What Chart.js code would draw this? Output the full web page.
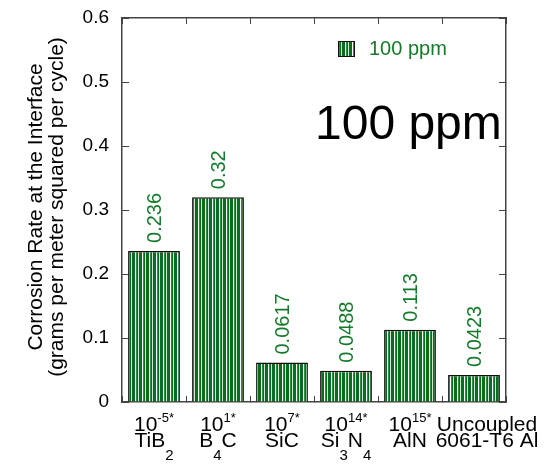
<!DOCTYPE html>
<html>
<head>
<meta charset="utf-8">
<script src="https://cdn.jsdelivr.net/npm/chart.js@4.4.0/dist/chart.umd.min.js"></script>
<style>
  html, body { margin: 0; padding: 0; background: #fff; }
  canvas { display: block; }
</style>
</head>
<body>
<canvas id="corrosion-chart" width="557" height="468"></canvas>
<script>
// values
const materials = ['TiB2', 'B4C', 'SiC', 'Si3N4', 'AlN', 'Uncoupled 6061-T6 Al'];
const corrosionRate = [0.236, 0.32, 0.0617, 0.0488, 0.113, 0.0423];
const seriesName = '100 ppm';
// first label line: [text, superscript]
const resistivityLabels = [['10', '-5*'], ['10', '1*'], ['10', '7*'], ['10', '14*'], ['10', '15*'], ['Uncoupled', '']];
// second label line: [text, isSubscript] pieces
const formulaLabels = [
  [['TiB', 0], ['2', 1]],
  [['B', 0], ['4', 1], ['C', 0]],
  [['SiC', 0]],
  [['Si', 0], ['3', 1], ['N', 0], ['4', 1]],
  [['AlN', 0]],
  [['6061-T6 Al', 0]],
];
const yMin = 0, yMax = 0.6, yStep = 0.1;
const yTitleLines = ['Corrosion Rate at the Interface', '(grams per meter squared per cycle)'];

const FONT = '"Liberation Sans", Arial, Helvetica, sans-serif';
const textGreen = '#157a2a';
const axisColor = '#444';

Chart.defaults.font.family = FONT;
Chart.defaults.color = '#000';

// vertical green / white stripes like the original hatch
function stripePattern() {
  const c = document.createElement('canvas');
  const cols = ['#0b6b20', '#0b6b20', '#ffffff', '#2f8f3f', '#0b6b20', '#cfe6cf', '#0b6b20'];
  c.width = cols.length;
  c.height = 4;
  const g = c.getContext('2d');
  cols.forEach((col, i) => { g.fillStyle = col; g.fillRect(i, 0, 1, 4); });
  return g.createPattern(c, 'repeat');
}
const barFill = stripePattern();

// rotated value above each bar
const valueLabels = {
  id: 'valueLabels',
  afterDatasetsDraw(chart) {
    const ctx = chart.ctx;
    const meta = chart.getDatasetMeta(0);
    ctx.save();
    ctx.fillStyle = textGreen;
    ctx.font = '20px ' + FONT;
    ctx.textAlign = 'left';
    ctx.textBaseline = 'middle';
    meta.data.forEach((bar, i) => {
      ctx.save();
      ctx.translate(bar.x + 1, bar.y - 8);
      ctx.rotate(-Math.PI / 2);
      ctx.fillText(String(corrosionRate[i]), 0, 0);
      ctx.restore();
    });
    ctx.restore();
  }
};

function drawPieces(ctx, pieces, cx, y) {
  // pieces: [text, font, dy]
  let total = 0;
  pieces.forEach(p => { ctx.font = p[1]; total += ctx.measureText(p[0]).width; });
  let x = cx - total / 2;
  pieces.forEach(p => {
    ctx.font = p[1];
    ctx.fillText(p[0], x, y + p[2]);
    x += ctx.measureText(p[0]).width;
  });
}

// two-line category labels with super/subscripts
const categoryLabels = {
  id: 'categoryLabels',
  afterDraw(chart) {
    const ctx = chart.ctx;
    const xs = chart.scales.x;
    const base = chart.chartArea.bottom;
    const main = '21px ' + FONT, sup = '13px ' + FONT, sub = '15px ' + FONT;
    ctx.save();
    ctx.fillStyle = '#000';
    ctx.textAlign = 'left';
    ctx.textBaseline = 'alphabetic';
    materials.forEach((m, i) => {
      // the last (two-word) label sits a little to the right in the original
      const cx = xs.getPixelForValue(i) + (i === materials.length - 1 ? 13 : 0);
      const r = resistivityLabels[i];
      drawPieces(ctx, [[r[0], main, 0], [r[1], sup, -9]], cx, base + 29);
      const f = formulaLabels[i].map(p => p[1] ? [p[0], sub, 13] : [p[0], main, 0]);
      drawPieces(ctx, f, cx, base + 45);
    });
    ctx.restore();
  }
};

// y title, in-plot legend and big note
const extras = {
  id: 'extras',
  afterDraw(chart) {
    const ctx = chart.ctx;
    const a = chart.chartArea;
    ctx.save();
    // axis title
    ctx.fillStyle = '#000';
    ctx.font = '21px ' + FONT;
    ctx.textAlign = 'center';
    ctx.textBaseline = 'alphabetic';
    ctx.translate(42, (a.top + a.bottom) / 2 - 3);
    ctx.rotate(-Math.PI / 2);
    ctx.fillText(yTitleLines[0], 0, 0);
    ctx.fillText(yTitleLines[1], 0, 21);
    ctx.restore();

    // legend
    ctx.save();
    const bx = a.left + 216, by = a.top + 23;
    ctx.fillStyle = barFill;
    ctx.fillRect(bx, by, 17, 16);
    ctx.strokeStyle = '#111';
    ctx.lineWidth = 1;
    ctx.strokeRect(bx + 0.5, by + 0.5, 16, 15);
    ctx.fillStyle = textGreen;
    ctx.font = '20px ' + FONT;
    ctx.textBaseline = 'middle';
    ctx.fillText(seriesName, bx + 31, by + 8);

    // big label
    ctx.fillStyle = '#000';
    ctx.font = '48px ' + FONT;
    ctx.textBaseline = 'alphabetic';
    ctx.fillText(seriesName, a.left + 193, a.top + 121);
    ctx.restore();
  }
};

const gridInward = (len) => ({
  drawOnChartArea: false,
  tickLength: len,
  color: axisColor,
  lineWidth: 1,
});
const frameBorder = { display: true, color: axisColor, width: 1.5 };

const ctx = document.getElementById('corrosion-chart').getContext('2d');
new Chart(ctx, {
  type: 'bar',
  data: {
    labels: materials,
    datasets: [{
      label: seriesName,
      data: corrosionRate,
      backgroundColor: barFill,
      borderColor: '#111',
      borderWidth: 1.5,
      borderSkipped: 'start',
      barPercentage: 0.81,
      categoryPercentage: 1,
    }],
  },
  options: {
    responsive: false,
    animation: false,
    layout: { padding: { top: 18, right: 51, left: 0, bottom: 0 } },
    plugins: {
      legend: { display: false },
      tooltip: { enabled: false },
    },
    scales: {
      x: {
        position: 'bottom',
        offset: true,
        grid: Object.assign(gridInward(-6), { offset: true }),
        border: frameBorder,
        ticks: { display: false },
        afterFit(s) { s.height = 66; },
      },
      xTop: {
        type: 'category',
        position: 'top',
        labels: materials,
        offset: true,
        grid: Object.assign(gridInward(-6), { offset: true }),
        border: frameBorder,
        ticks: { display: false },
        afterFit(s) { s.height = 0; },
      },
      y: {
        position: 'left',
        min: yMin,
        max: yMax,
        ticks: { stepSize: yStep, padding: 20, color: '#000', font: { size: 19 } },
        grid: gridInward(-7),
        border: frameBorder,
        afterFit(s) { s.width = 122; s.paddingTop = 0; s.paddingBottom = 0; },
      },
      yRight: {
        position: 'right',
        min: yMin,
        max: yMax,
        ticks: { stepSize: yStep, display: false },
        grid: gridInward(-7),
        border: frameBorder,
        afterFit(s) { s.width = 0; s.paddingTop = 0; s.paddingBottom = 0; },
      },
    },
  },
  plugins: [valueLabels, categoryLabels, extras],
});
</script>
</body>
</html>
